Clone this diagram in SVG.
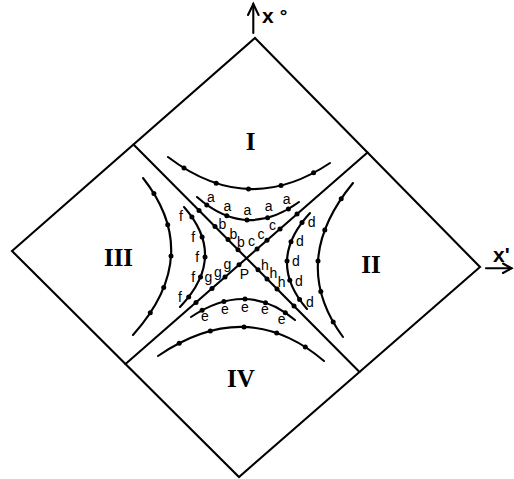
<svg xmlns="http://www.w3.org/2000/svg" width="514" height="479" viewBox="0 0 514 479">
<style>
.ln{fill:none;stroke:#000;stroke-width:2.1;stroke-linecap:round;stroke-linejoin:miter}
.dot{fill:#000}
.lbl{font-family:"Liberation Sans",Arial,sans-serif;font-size:14px;text-anchor:middle;fill:#000}
.rn{font-family:"Liberation Serif","Times New Roman",serif;font-size:25px;font-weight:bold;text-anchor:middle;fill:#000}
.ax{font-family:"Liberation Sans",Arial,sans-serif;font-size:21px;font-weight:bold;fill:#000}
</style>
<rect width="514" height="479" fill="#fff"/>
<g id="diamond">
<polygon class="ln" points="255,38 480,267 239,477 12,251"/>
</g>
<g id="axes">
<line class="ln" x1="253.3" y1="33" x2="253.3" y2="4"/>
<polyline class="ln" points="248,15 253.3,4 258.6,15"/>
<text class="ax" x="262" y="23">x<tspan dx="6" font-size="19" dy="-1">°</tspan></text>
<line class="ln" x1="486" y1="268.3" x2="511.5" y2="268.3"/>
<polyline class="ln" points="503,263.5 511.5,268.3 503,273"/>
<text class="ax" x="493" y="262">x'</text>
</g>
<g id="connectors">
<line class="ln" x1="133.5" y1="144.5" x2="359.5" y2="372"/>
<line class="ln" x1="367.5" y1="152.5" x2="125.5" y2="364"/>
<g class="dot">
<circle cx="199" cy="210.4" r="2.5"/><circle cx="215" cy="226.5" r="2.5"/><circle cx="228" cy="239.6" r="2.5"/><circle cx="238" cy="249.7" r="2.5"/>
<circle cx="258" cy="269.8" r="2.5"/><circle cx="267" cy="278.9" r="2.5"/><circle cx="277" cy="288.9" r="2.5"/><circle cx="294" cy="306.1" r="2.5"/>
<circle cx="297" cy="214.1" r="2.5"/><circle cx="280" cy="229" r="2.5"/><circle cx="267" cy="240.3" r="2.5"/><circle cx="257" cy="249.1" r="2.5"/>
<circle cx="239" cy="264.8" r="2.5"/><circle cx="225" cy="277" r="2.5"/><circle cx="212" cy="288.4" r="2.5"/><circle cx="196" cy="302.4" r="2.5"/>
</g>
<text class="lbl" x="222.5" y="229">b</text><text class="lbl" x="233.5" y="239">b</text><text class="lbl" x="241" y="246.5">b</text>
<text class="lbl" x="251.5" y="246">c</text><text class="lbl" x="261" y="238.5">c</text><text class="lbl" x="272.5" y="230">c</text>
<text class="lbl" x="208.3" y="282">g</text><text class="lbl" x="218" y="276.5">g</text><text class="lbl" x="227.3" y="268.5">g</text>
<text class="lbl" x="265" y="269.5">h</text><text class="lbl" x="273.3" y="278">h</text><text class="lbl" x="281.7" y="286.5">h</text>
<text class="lbl" x="244.3" y="278.5">P</text>
</g>
<g id="region-I">
<text class="rn" x="250.7" y="149.5">I</text>
<path class="ln" d="M168,157 Q248,218 330,163"/>
<g class="dot"><circle cx="184" cy="168" r="2.5"/><circle cx="216.2" cy="183.2" r="2.5"/><circle cx="248.5" cy="189" r="2.5"/><circle cx="281" cy="185.6" r="2.5"/><circle cx="313.6" cy="172.8" r="2.5"/></g>
<path class="ln" d="M197,197 Q246,240.5 299,202"/>
<g class="dot"><circle cx="206.8" cy="204.9" r="2.5"/><circle cx="226.8" cy="215.7" r="2.5"/><circle cx="247" cy="220" r="2.5"/><circle cx="267.6" cy="217.7" r="2.5"/><circle cx="288.4" cy="208.9" r="2.5"/></g>
<text class="lbl" x="211" y="201.5">a</text><text class="lbl" x="227.3" y="210.5">a</text><text class="lbl" x="247.3" y="215">a</text><text class="lbl" x="268.7" y="211">a</text><text class="lbl" x="286.7" y="204">a</text>
</g>
<g id="region-II">
<text class="rn" x="371" y="272.5">II</text>
<path class="ln" d="M353,183 Q288,262 343,337"/>
<g class="dot"><circle cx="341.2" cy="198.8" r="2.5"/><circle cx="324.8" cy="230" r="2.5"/><circle cx="318" cy="261" r="2.5"/><circle cx="320.8" cy="291.6" r="2.5"/><circle cx="333.2" cy="322" r="2.5"/></g>
<path class="ln" d="M310,213 Q265.5,261 307,309"/>
<g class="dot"><circle cx="302" cy="222.6" r="2.5"/><circle cx="291" cy="241.8" r="2.5"/><circle cx="287" cy="261" r="2.5"/><circle cx="289.8" cy="280.2" r="2.5"/><circle cx="299.6" cy="299.4" r="2.5"/></g>
<text class="lbl" x="311.7" y="226.8">d</text><text class="lbl" x="300" y="246">d</text><text class="lbl" x="296" y="265.8">d</text><text class="lbl" x="299" y="285.8">d</text><text class="lbl" x="310" y="306.8">d</text>
</g>
<g id="region-III">
<text class="rn" x="118.5" y="265.5">III</text>
<path class="ln" d="M143,178 Q204,255.5 133,335"/>
<g class="dot"><circle cx="153.9" cy="193.5" r="2.5"/><circle cx="167.7" cy="224.7" r="2.5"/><circle cx="171" cy="256" r="2.5"/><circle cx="163.7" cy="287.5" r="2.5"/><circle cx="150.3" cy="312.8" r="2.5"/></g>
<path class="ln" d="M184,207 Q228,257 180,307"/>
<g class="dot"><circle cx="191.9" cy="217" r="2.5"/><circle cx="202.1" cy="237" r="2.5"/><circle cx="205" cy="257" r="2.5"/><circle cx="200.5" cy="277" r="2.5"/><circle cx="188.7" cy="297" r="2.5"/></g>
<text class="lbl" x="181" y="221">f</text><text class="lbl" x="193.3" y="241.7">f</text><text class="lbl" x="197.3" y="262.3">f</text><text class="lbl" x="193.3" y="282.3">f</text><text class="lbl" x="180" y="302.3">f</text>
</g>
<g id="region-IV">
<text class="rn" x="241" y="386.5">IV</text>
<path class="ln" d="M158,356 Q247,295.5 324,361"/>
<g class="dot"><circle cx="179.2" cy="343.3" r="2.5"/><circle cx="210.3" cy="331" r="2.5"/><circle cx="244" cy="327" r="2.5"/><circle cx="276.7" cy="333" r="2.5"/><circle cx="305.3" cy="347.1" r="2.5"/></g>
<path class="ln" d="M191,317 Q247,279.5 295,320"/>
<g class="dot"><circle cx="202.1" cy="310.3" r="2.5"/><circle cx="223.9" cy="301.5" r="2.5"/><circle cx="245" cy="299" r="2.5"/><circle cx="265.5" cy="302.7" r="2.5"/><circle cx="285.3" cy="312.7" r="2.5"/></g>
<text class="lbl" x="205" y="320.5">e</text><text class="lbl" x="225" y="313.8">e</text><text class="lbl" x="245" y="312">e</text><text class="lbl" x="265" y="313.8">e</text><text class="lbl" x="281.7" y="323.8">e</text>
</g>
</svg>
